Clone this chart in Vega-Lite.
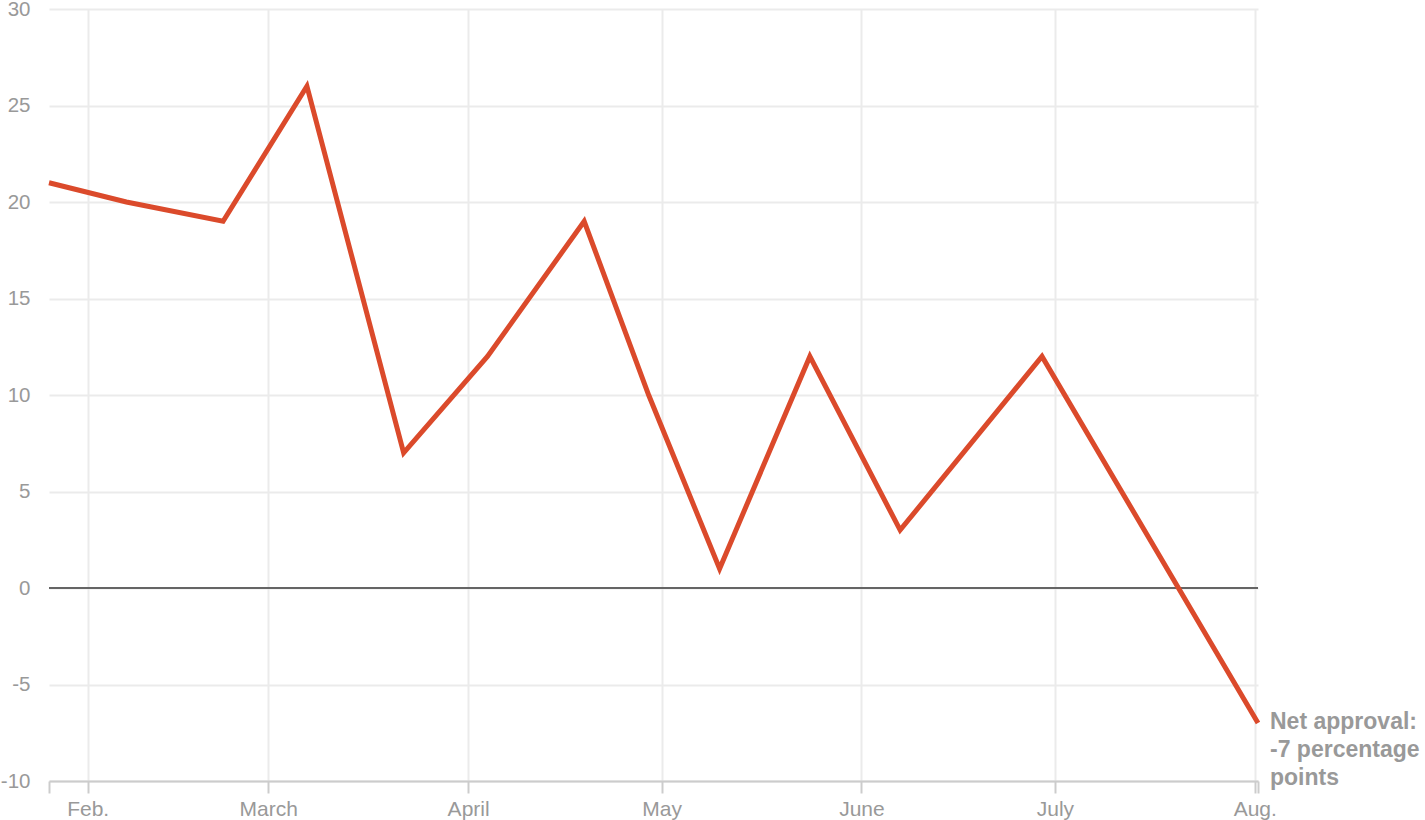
{
  "$schema": "https://vega.github.io/schema/vega-lite/v6.json",
  "autosize": {"type": "none"},
  "width": 1209,
  "height": 772,
  "padding": {"left": 49, "top": 9, "right": 167, "bottom": 39},
  "background": "white",
  "config": {
    "view": {"stroke": null},
    "font": "Liberation Sans"
  },
  "data": {
    "values": [
      {"date": "2021-01-26T00:00", "net": 21},
      {"date": "2021-02-07T00:00", "net": 20},
      {"date": "2021-02-22T00:00", "net": 19},
      {"date": "2021-03-07T00:00", "net": 26},
      {"date": "2021-03-22T00:00", "net": 7},
      {"date": "2021-04-04T00:00", "net": 12},
      {"date": "2021-04-19T00:00", "net": 19},
      {"date": "2021-04-29T00:00", "net": 10},
      {"date": "2021-05-10T00:00", "net": 1},
      {"date": "2021-05-24T00:00", "net": 12},
      {"date": "2021-06-07T00:00", "net": 3},
      {"date": "2021-06-29T00:00", "net": 12},
      {"date": "2021-08-01T12:00", "net": -7}
    ]
  },
  "encoding": {
    "x": {
      "field": "date",
      "type": "temporal",
      "scale": {"type": "time", "domain": [{"year": 2021, "month": 1, "date": 26}, {"year": 2021, "month": 8, "date": 1, "hours": 12}], "nice": false},
      "axis": {
        "title": null,
        "values": [
          {"year": 2021, "month": 1, "date": 26},
          {"year": 2021, "month": 2, "date": 1},
          {"year": 2021, "month": 3, "date": 1},
          {"year": 2021, "month": 4, "date": 1},
          {"year": 2021, "month": 5, "date": 1},
          {"year": 2021, "month": 6, "date": 1},
          {"year": 2021, "month": 7, "date": 1},
          {"year": 2021, "month": 8, "date": 1},
          {"year": 2021, "month": 8, "date": 1, "hours": 12}
        ],
        "labelExpr": "date(datum.value) != 1 || hours(datum.value) != 0 ? '' : (month(datum.value) == 1 ? 'Feb.' : month(datum.value) == 2 ? 'March' : month(datum.value) == 3 ? 'April' : month(datum.value) == 4 ? 'May' : month(datum.value) == 5 ? 'June' : month(datum.value) == 6 ? 'July' : 'Aug.')",
        "grid": true,
        "gridColor": "#ebebeb",
        "gridWidth": 2,
        "gridOpacity": {"condition": {"test": "date(datum.value) == 1 && hours(datum.value) == 0", "value": 1}, "value": 0},
        "domainColor": "#cccccc",
        "domainWidth": 2,
        "tickColor": "#cccccc",
        "tickWidth": 2,
        "tickSize": 12,
        "labelColor": "#999999",
        "labelFontSize": 21,
        "labelPadding": 5,
        "labelFlush": false
      }
    },
    "y": {
      "field": "net",
      "type": "quantitative",
      "scale": {"domain": [-10, 30], "nice": false, "zero": false},
      "axis": {
        "title": null,
        "values": [-10, -5, 0, 5, 10, 15, 20, 25, 30],
        "labelExpr": "'' + datum.value",
        "grid": true,
        "gridColor": "#ebebeb",
        "gridWidth": 2,
        "domain": false,
        "ticks": false,
        "labelColor": "#999999",
        "labelFontSize": 20.5,
        "labelPadding": 19
      }
    }
  },
  "layer": [
    {
      "mark": {"type": "rule", "color": "#666666", "strokeWidth": 1.5},
      "encoding": {"y": {"datum": 0}, "x": null}
    },
    {
      "mark": {"type": "line", "color": "#db4a2b", "strokeWidth": 5, "strokeJoin": "miter", "clip": false}
    },
    {
      "transform": [{"filter": "datum.net == -7"}],
      "mark": {
        "type": "text",
        "text": ["Net approval:", "-7 percentage", "points"],
        "align": "left",
        "baseline": "alphabetic",
        "dx": 12,
        "dy": 6,
        "lineHeight": 28,
        "fontSize": 23,
        "fontWeight": "bold",
        "color": "#999999"
      }
    }
  ]
}
